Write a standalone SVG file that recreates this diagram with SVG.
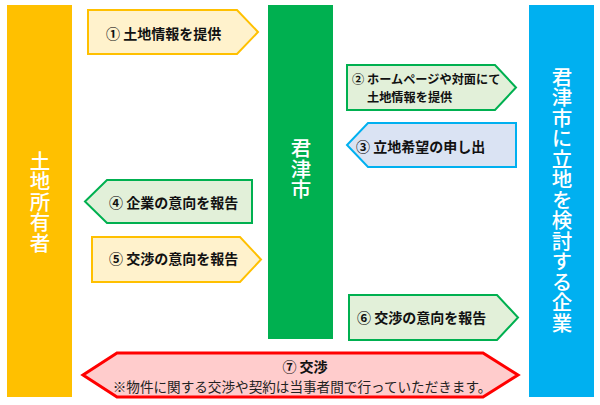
<svg xmlns="http://www.w3.org/2000/svg" width="600" height="405" viewBox="0 0 600 405">
<style>
.lbl{font-family:"Noto Sans CJK JP","Noto Sans",sans-serif;font-weight:bold;font-size:14px;fill:#111;dominant-baseline:central}
.lbl2{font-family:"Noto Sans CJK JP","Noto Sans",sans-serif;font-weight:bold;font-size:12.2px;fill:#111;dominant-baseline:central}
.note{font-family:"Noto Sans CJK JP","Noto Sans",sans-serif;font-size:13.6px;fill:#222;dominant-baseline:central}
.vt{font-family:"Noto Sans CJK JP","Noto Sans",sans-serif;font-weight:500;font-size:20.5px;fill:#fff;writing-mode:vertical-rl;text-anchor:middle}
.ora{fill:#FFF2CC;stroke:#FFC000;stroke-width:2}
.grn{fill:#E2F0D9;stroke:#00B050;stroke-width:2}
.blu{fill:#DAE3F3;stroke:#00B0F0;stroke-width:2}
.red{fill:#FFCCCC;stroke:#FF0000;stroke-width:3}
</style>
<rect width="600" height="405" fill="#fff"/>
<g id="owner">
<rect x="7" y="5" width="65" height="392" fill="#FFC000"/>
<text class="vt" x="40" y="202">土地所有者</text>
</g>
<g id="city">
<rect x="268" y="5" width="65" height="334" fill="#00B050"/>
<text class="vt" x="301" y="169">君津市</text>
</g>
<g id="company">
<rect x="529" y="5" width="65" height="392" fill="#00B0F0"/>
<text class="vt" x="562" y="200">君津市に立地を検討する企業</text>
</g>
<g id="connectors">
<g id="a1"><polygon class="ora" points="88,10 237,10 258,32 237,54 88,54"/><text class="lbl" x="106" y="32.5">① 土地情報を提供</text></g>
<g id="a2"><polygon class="grn" points="347,65 495,65 516,87.5 495,110 347,110"/><text class="lbl2" x="352" y="78.7">② ホームページや対面にて</text><text class="lbl2" x="367" y="96.5">土地情報を提供</text></g>
<g id="a3"><polygon class="blu" points="368,123 516,123 516,167 368,167 347,145"/><text class="lbl" x="356" y="145.5">③ 立地希望の申し出</text></g>
<g id="a4"><polygon class="grn" points="107,180 252,180 252,223 107,223 85,201.5"/><text class="lbl" x="109" y="201.5">④ 企業の意向を報告</text></g>
<g id="a5"><polygon class="ora" points="92,237 240,237 261,259.5 240,282 92,282"/><text class="lbl" x="109" y="258">⑤ 交渉の意向を報告</text></g>
<g id="a6"><polygon class="grn" points="349,295 497,295 518,317.5 497,340 349,340"/><text class="lbl" x="357" y="316.5">⑥ 交渉の意向を報告</text></g>
<g id="a7"><polygon class="red" points="117,353 483,353 518,375 483,397 117,397 83,375"/><text class="lbl" x="305" y="366" text-anchor="middle">⑦ 交渉</text><text class="note" x="302" y="385.5" text-anchor="middle">※物件に関する交渉や契約は当事者間で行っていただきます。</text></g>
</g>
</svg>
